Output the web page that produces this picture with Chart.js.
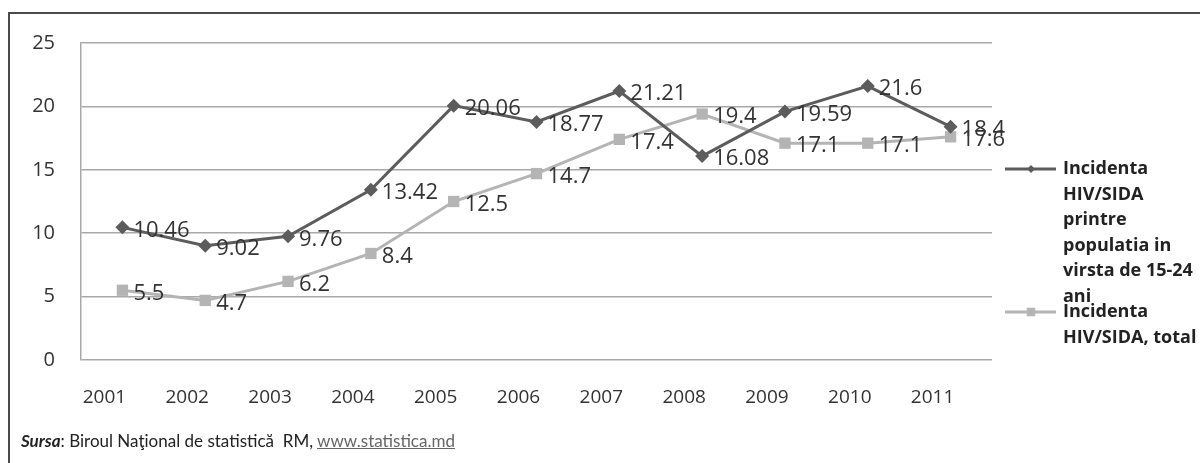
<!DOCTYPE html>
<html>
<head>
<meta charset="utf-8">
<script src="https://cdn.jsdelivr.net/npm/chart.js@4"></script>
<style>
  html, body { margin: 0; padding: 0; background: #fff; }
  #wrap { position: relative; width: 1200px; height: 463px; overflow: hidden; }
  #frame { position: absolute; left: 8px; top: 12px; width: 1200px; height: 470px;
           border-top: 2px solid #4a4a4a; border-left: 2px solid #4a4a4a; box-sizing: border-box; }
  #chartBox { position: absolute; left: 0; top: 0; width: 1200px; height: 463px; }
  #source { position: absolute; left: 21px; top: 430px; font-family: Lato, "Open Sans", sans-serif;
            font-size: 17px; color: #222; }
  #source b { font-style: italic; }
  #source u { color: #666; }
</style>
</head>
<body>
<div id="wrap">
  <div id="frame"></div>
  <div id="chartBox"><canvas id="lineChart"></canvas></div>
  <div id="source"><b>Sursa</b>: Biroul Naţional de statistică&nbsp; RM, <u>www.statistica.md</u></div>
</div>
<script>
const years = ['2001', '2002', '2003', '2004', '2005', '2006', '2007', '2008', '2009', '2010', '2011'];
const youthIncidence = [10.46, 9.02, 9.76, 13.42, 20.06, 18.77, 21.21, 16.08, 19.59, 21.6, 18.4];
const totalIncidence = [5.5, 4.7, 6.2, 8.4, 12.5, 14.7, 17.4, 19.4, 17.1, 17.1, 17.6];
const youthLegend = ['Incidenta', 'HIV/SIDA', 'printre', 'populatia in', 'virsta de 15-24', 'ani'];
const totalLegend = ['Incidenta', 'HIV/SIDA, total'];

const darkColor = '#5c5c5c';
const lightColor = '#b4b4b4';
const fontFamily = '"Open Sans", sans-serif';

// value labels to the right of each point
const pointLabels = {
    id: 'pointLabels',
    afterDatasetsDraw(chart) {
        const ctx = chart.ctx;
        ctx.save();
        ctx.font = '22px ' + fontFamily;
        ctx.fillStyle = '#333';
        ctx.textBaseline = 'middle';
        ctx.textAlign = 'left';
        chart.data.datasets.forEach((ds, i) => {
            chart.getDatasetMeta(i).data.forEach((pt, j) => {
                ctx.fillText(String(ds.data[j]), pt.x + 11, pt.y + 3);
            });
        });
        ctx.restore();
    }
};

// legend on the right, with wrapped lines like the original
const sideLegend = {
    id: 'sideLegend',
    afterDraw(chart) {
        const ctx = chart.ctx;
        const entries = [
            { lines: youthLegend, color: darkColor, style: 'rectRot', radius: 4, y: 169 },
            { lines: totalLegend, color: lightColor, style: 'rect', radius: 6, y: 312 }
        ];
        ctx.save();
        entries.forEach(e => {
            ctx.strokeStyle = e.color;
            ctx.lineWidth = 3;
            ctx.beginPath();
            ctx.moveTo(1005, e.y);
            ctx.lineTo(1056, e.y);
            ctx.stroke();
            ctx.fillStyle = e.color;
            Chart.helpers.drawPoint(ctx, { pointStyle: e.style, radius: e.radius, borderWidth: 0 }, 1031, e.y);
            ctx.fillStyle = '#222';
            ctx.font = 'bold 18px ' + fontFamily;
            ctx.textBaseline = 'middle';
            e.lines.forEach((t, k) => ctx.fillText(t, 1063, e.y + k * 25.5));
        });
        ctx.restore();
    }
};

new Chart(
    document.getElementById('lineChart'),
    {
        type: 'line',
        data: {
            labels: years,
            datasets: [
                {
                    label: 'Incidenta HIV/SIDA printre populatia in virsta de 15-24 ani',
                    data: youthIncidence,
                    borderColor: darkColor,
                    backgroundColor: darkColor,
                    borderWidth: 3,
                    pointStyle: 'rectRot',
                    pointRadius: 7,
                    pointBorderWidth: 0,
                    tension: 0
                },
                {
                    label: 'Incidenta HIV/SIDA, total',
                    data: totalIncidence,
                    borderColor: lightColor,
                    backgroundColor: lightColor,
                    borderWidth: 3,
                    pointStyle: 'rect',
                    pointRadius: 8,
                    pointBorderWidth: 0,
                    tension: 0
                }
            ]
        },
        options: {
            responsive: true,
            maintainAspectRatio: false,
            animation: false,
            layout: { padding: { top: 43, right: 208, bottom: 0, left: 0 } },
            scales: {
                x: {
                    offset: true,
                    grid: { display: false },
                    border: { display: false },
                    ticks: { color: '#333', font: { family: fontFamily, size: 19 }, padding: 18, labelOffset: -18 },
                    afterFit: scale => { scale.height = 103; }
                },
                y: {
                    min: 0,
                    max: 25,
                    ticks: { stepSize: 5, color: '#333', font: { family: fontFamily, size: 20 }, padding: 26 },
                    grid: { color: '#a8a8a8', lineWidth: 1.5, drawTicks: false },
                    border: { color: '#a8a8a8', width: 1.5 },
                    afterFit: scale => { scale.width = 81; }
                }
            },
            plugins: {
                legend: { display: false },
                tooltip: { enabled: false }
            }
        },
        plugins: [pointLabels, sideLegend]
    }
);
</script>
</body>
</html>
